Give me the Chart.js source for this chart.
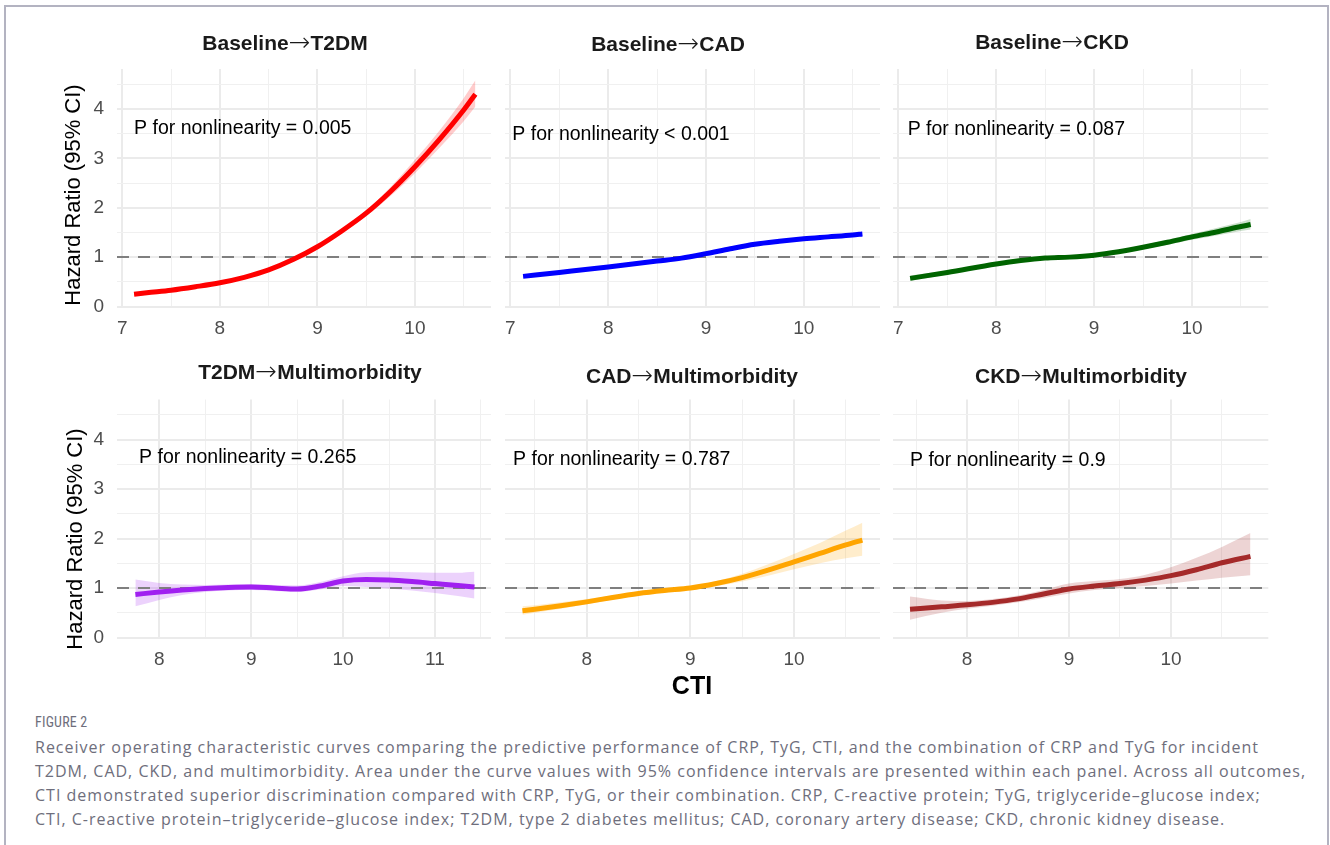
<!DOCTYPE html>
<html>
<head>
<meta charset="utf-8">
<script src="https://cdn.jsdelivr.net/npm/chart.js@4.4.1/dist/chart.umd.min.js"></script>
<style>
html,body{margin:0;padding:0;background:#fff;width:1330px;height:845px;overflow:hidden;position:relative;}
#frame{position:absolute;left:4px;top:5px;width:1325px;height:900px;border:2px solid #b3b3c1;box-sizing:border-box;}
canvas{position:absolute;left:0;top:0;}
#fig{position:absolute;left:35px;top:714px;font-family:'Liberation Sans Narrow','Roboto Condensed','DejaVu Sans Condensed',sans-serif;font-size:14px;color:#6e6e7c;letter-spacing:0.2px;}
#cap{position:absolute;left:35px;top:736px;font-family:'Open Sans',Lato,sans-serif;font-size:16px;line-height:23.9px;color:#6e6e7c;white-space:nowrap;}
#cap span{display:inline-block;}
</style>
</head>
<body>
<div id="frame"></div>
<canvas id="c0" width="1330" height="710"></canvas>
<canvas id="c1" width="1330" height="710"></canvas>
<canvas id="c2" width="1330" height="710"></canvas>
<canvas id="c3" width="1330" height="710"></canvas>
<canvas id="c4" width="1330" height="710"></canvas>
<canvas id="c5" width="1330" height="710"></canvas>
<div id="fig">FIGURE 2</div>
<div id="cap">
<div><span id="capL1">Receiver operating characteristic curves comparing the predictive performance of CRP, TyG, CTI, and the combination of CRP and TyG for incident</span></div>
<div><span>T2DM, CAD, CKD, and multimorbidity. Area under the curve values with 95% confidence intervals are presented within each panel. Across all outcomes,</span></div>
<div><span>CTI demonstrated superior discrimination compared with CRP, TyG, or their combination. CRP, C-reactive protein; TyG, triglyceride–glucose index;</span></div>
<div><span>CTI, C-reactive protein–triglyceride–glucose index; T2DM, type 2 diabetes mellitus; CAD, coronary artery disease; CKD, chronic kidney disease.</span></div>
</div>
<script>
// ---------------- DATA ----------------
const TITLES = ["Baseline→T2DM", "Baseline→CAD", "Baseline→CKD", "T2DM→Multimorbidity", "CAD→Multimorbidity", "CKD→Multimorbidity"];
const P_LABELS = ["P for nonlinearity = 0.005", "P for nonlinearity < 0.001", "P for nonlinearity = 0.087", "P for nonlinearity = 0.265", "P for nonlinearity = 0.787", "P for nonlinearity = 0.9"];
const Y_TITLE = "Hazard Ratio (95% CI)";
const X_TITLE = "CTI";
const REF_HR = 1;

const Y_MAJOR = [0, 1, 2, 3, 4];
const Y_MINOR = [0.5, 1.5, 2.5, 3.5, 4.5];
const X_MAJOR_TOP = [7, 8, 9, 10];
const X_MINOR_TOP = [7.5, 8.5, 9.5, 10.5];
const X_MAJOR_T2DM_MM = [8, 9, 10, 11];
const X_MINOR_T2DM_MM = [8.5, 9.5, 10.5, 11.5];
const X_MAJOR_CAD_MM = [8, 9, 10];
const X_MINOR_CAD_MM = [7.5, 8.5, 9.5, 10.5];
const X_MAJOR_CKD_MM = [8, 9, 10];
const X_MINOR_CKD_MM = [7.5, 8.5, 9.5, 10.5];

// Baseline -> T2DM
const CTI_T2DM = [7.12, 7.25, 7.5, 7.75, 8.0, 8.25, 8.5, 8.75, 9.0, 9.25, 9.5, 9.75, 10.0, 10.25, 10.5, 10.62];
const HR_T2DM  = [0.25, 0.28, 0.33, 0.40, 0.48, 0.59, 0.74, 0.95, 1.21, 1.53, 1.89, 2.33, 2.83, 3.38, 3.98, 4.30];
const LO_T2DM  = [0.22, 0.25, 0.31, 0.38, 0.46, 0.57, 0.72, 0.93, 1.18, 1.49, 1.83, 2.24, 2.70, 3.21, 3.75, 4.05];
const HI_T2DM  = [0.29, 0.31, 0.36, 0.42, 0.50, 0.61, 0.76, 0.97, 1.24, 1.57, 1.95, 2.42, 2.97, 3.56, 4.22, 4.58];

// Baseline -> CAD
const CTI_CAD = [7.13, 7.5, 8.0, 8.5, 8.75, 9.0, 9.25, 9.5, 9.75, 10.0, 10.25, 10.5, 10.6];
const HR_CAD  = [0.61, 0.69, 0.80, 0.92, 0.98, 1.07, 1.17, 1.26, 1.32, 1.37, 1.41, 1.45, 1.47];
const LO_CAD  = [0.58, 0.67, 0.78, 0.90, 0.96, 1.05, 1.15, 1.24, 1.30, 1.35, 1.38, 1.41, 1.42];
const HI_CAD  = [0.64, 0.71, 0.82, 0.94, 1.00, 1.09, 1.19, 1.28, 1.34, 1.39, 1.44, 1.49, 1.52];

// Baseline -> CKD
const CTI_CKD = [7.12, 7.5, 8.0, 8.25, 8.5, 8.75, 9.0, 9.25, 9.5, 9.75, 10.0, 10.25, 10.5, 10.6];
const HR_CKD  = [0.57, 0.69, 0.86, 0.93, 0.98, 1.00, 1.04, 1.11, 1.20, 1.30, 1.41, 1.51, 1.62, 1.66];
const LO_CKD  = [0.52, 0.65, 0.83, 0.91, 0.96, 0.98, 1.02, 1.08, 1.16, 1.25, 1.35, 1.44, 1.53, 1.56];
const HI_CKD  = [0.63, 0.73, 0.89, 0.95, 1.00, 1.02, 1.06, 1.14, 1.24, 1.35, 1.47, 1.59, 1.71, 1.77];

// T2DM -> Multimorbidity
const CTI_T2DM_MM = [7.74, 8.0, 8.25, 8.5, 8.75, 9.0, 9.25, 9.5, 9.75, 10.0, 10.25, 10.5, 10.75, 11.0, 11.25, 11.43];
const HR_T2DM_MM  = [0.87, 0.92, 0.96, 0.99, 1.01, 1.02, 1.00, 0.98, 1.04, 1.14, 1.17, 1.16, 1.13, 1.09, 1.05, 1.02];
const LO_T2DM_MM  = [0.63, 0.76, 0.86, 0.92, 0.95, 0.96, 0.94, 0.92, 0.97, 1.04, 1.02, 0.99, 0.95, 0.90, 0.84, 0.79];
const HI_T2DM_MM  = [1.17, 1.10, 1.07, 1.06, 1.07, 1.08, 1.06, 1.05, 1.12, 1.24, 1.32, 1.33, 1.32, 1.31, 1.31, 1.33];

// CAD -> Multimorbidity
const CTI_CAD_MM = [7.38, 7.5, 7.75, 8.0, 8.25, 8.5, 8.75, 9.0, 9.25, 9.5, 9.75, 10.0, 10.25, 10.5, 10.66];
const HR_CAD_MM  = [0.54, 0.57, 0.64, 0.72, 0.81, 0.89, 0.95, 1.00, 1.09, 1.21, 1.36, 1.53, 1.70, 1.87, 1.97];
const LO_CAD_MM  = [0.46, 0.50, 0.58, 0.67, 0.77, 0.85, 0.92, 0.97, 1.04, 1.13, 1.25, 1.38, 1.50, 1.60, 1.65];
const HI_CAD_MM  = [0.63, 0.65, 0.71, 0.78, 0.85, 0.93, 0.98, 1.03, 1.14, 1.29, 1.48, 1.69, 1.91, 2.16, 2.32];

// CKD -> Multimorbidity
const CTI_CKD_MM = [7.44, 7.75, 8.0, 8.25, 8.5, 8.75, 9.0, 9.25, 9.5, 9.75, 10.0, 10.25, 10.5, 10.78];
const HR_CKD_MM  = [0.57, 0.62, 0.66, 0.71, 0.78, 0.88, 0.98, 1.04, 1.09, 1.16, 1.25, 1.37, 1.51, 1.64];
const LO_CKD_MM  = [0.36, 0.50, 0.58, 0.64, 0.71, 0.80, 0.89, 0.96, 1.00, 1.04, 1.09, 1.15, 1.21, 1.26];
const HI_CKD_MM  = [0.83, 0.75, 0.74, 0.78, 0.85, 0.96, 1.09, 1.14, 1.18, 1.27, 1.42, 1.61, 1.83, 2.11];

// ---------------- LAYOUT / STYLE ----------------
const W = 1330, H = 710;
const FONT = "'Liberation Sans', Arial, Helvetica, sans-serif";
Chart.defaults.font.family = FONT;

const SERIES = [
  {cti: CTI_T2DM, hr: HR_T2DM, lo: LO_T2DM, hi: HI_T2DM, color: '#FF0000', band: 'rgba(255,0,0,0.2)'},
  {cti: CTI_CAD, hr: HR_CAD, lo: LO_CAD, hi: HI_CAD, color: '#0000FF', band: 'rgba(0,0,255,0.2)'},
  {cti: CTI_CKD, hr: HR_CKD, lo: LO_CKD, hi: HI_CKD, color: '#006400', band: 'rgba(0,100,0,0.2)'},
  {cti: CTI_T2DM_MM, hr: HR_T2DM_MM, lo: LO_T2DM_MM, hi: HI_T2DM_MM, color: '#A020F0', band: 'rgba(160,32,240,0.2)'},
  {cti: CTI_CAD_MM, hr: HR_CAD_MM, lo: LO_CAD_MM, hi: HI_CAD_MM, color: '#FFA500', band: 'rgba(255,165,0,0.2)'},
  {cti: CTI_CKD_MM, hr: HR_CKD_MM, lo: LO_CKD_MM, hi: HI_CKD_MM, color: '#A52A2A', band: 'rgba(165,42,42,0.2)'}
];

const COLS = [[117, 491], [505, 880], [893, 1268.3]];
const ROWS = [[69, 306.5], [399.5, 637.5]];
const Y_MAX = 4.81;

const PANELS = [
  {col:0,row:0,xMin:6.945,xMax:10.78,xMaj:X_MAJOR_TOP,xMin2:X_MINOR_TOP,titleX:285,titleY:42,ann:[7.12,3.6]},
  {col:1,row:0,xMin:6.945,xMax:10.78,xMaj:X_MAJOR_TOP,xMin2:X_MINOR_TOP,titleX:668,titleY:43.5,ann:[7.02,3.49]},
  {col:2,row:0,xMin:6.945,xMax:10.78,xMaj:X_MAJOR_TOP,xMin2:X_MINOR_TOP,titleX:1052,titleY:41,ann:[7.095,3.59]},
  {col:0,row:1,xMin:7.54,xMax:11.61,xMaj:X_MAJOR_T2DM_MM,xMin2:X_MINOR_T2DM_MM,titleX:310,titleY:371,ann:[7.78,3.64]},
  {col:1,row:1,xMin:7.212,xMax:10.83,xMaj:X_MAJOR_CAD_MM,xMin2:X_MINOR_CAD_MM,titleX:692,titleY:375,ann:[7.29,3.6]},
  {col:2,row:1,xMin:7.273,xMax:10.955,xMaj:X_MAJOR_CKD_MM,xMin2:X_MINOR_CKD_MM,titleX:1081,titleY:375,ann:[7.44,3.58]}
];

function pts(xs, ys) { return xs.map((x, i) => ({x: x, y: ys[i]})); }

const TITLE_FONT = "bold 21px " + FONT;
const ARROW_FONT = "200 26px 'DejaVu Sans', 'Noto Sans', sans-serif";

function drawTitle(ctx, text, cx, cy) {
  const parts = text.split('→');
  ctx.textAlign = 'left';
  ctx.textBaseline = 'alphabetic';
  ctx.font = TITLE_FONT;
  const w0 = ctx.measureText(parts[0]).width;
  const w2 = ctx.measureText(parts[1]).width;
  ctx.font = ARROW_FONT;
  const w1 = ctx.measureText('→').width;
  const base = cy + 7.5;
  let x = cx - (w0 + w1 + w2) / 2;
  ctx.font = TITLE_FONT;
  ctx.fillText(parts[0], x, base);
  x += w0;
  ctx.font = ARROW_FONT;
  ctx.fillText('→', x, base + 1);
  x += w1;
  ctx.font = TITLE_FONT;
  ctx.fillText(parts[1], x, base);
}

function textPlugin(items) {
  return {
    id: 'panelText',
    afterDraw(chart) {
      const ctx = chart.ctx;
      items.forEach(it => {
        ctx.save();
        ctx.fillStyle = it.color || '#000';
        if (it.title) {
          drawTitle(ctx, it.text, it.x, it.y);
          ctx.restore();
          return;
        }
        ctx.font = it.font;
        ctx.textAlign = it.align || 'center';
        ctx.textBaseline = 'middle';
        let x = it.x, y = it.y;
        if (it.data) {
          x = chart.scales.x.getPixelForValue(it.data[0]);
          y = chart.scales.y.getPixelForValue(it.data[1]);
        }
        ctx.translate(x, y);
        if (it.rot) ctx.rotate(it.rot);
        ctx.fillText(it.text, 0, 0);
        ctx.restore();
      });
    }
  };
}

PANELS.forEach((p, i) => {
  const s = SERIES[i];
  const [px0, px1] = COLS[p.col];
  const [py0, py1] = ROWS[p.row];
  const xMaj = p.xMaj, xMinr = p.xMin2;
  const isMajX = v => xMaj.includes(v);
  const isMajY = v => Y_MAJOR.includes(v);

  const texts = [
    {text: TITLES[i], title: true, x: p.titleX, y: p.titleY, color: '#1a1a1a'},
    {text: P_LABELS[i], data: p.ann, align: 'left', font: "19.5px " + FONT, color: '#000'}
  ];
  if (p.col === 0) {
    texts.push({text: Y_TITLE, x: p.row === 0 ? 74 : 76, y: p.row === 0 ? 195 : 539, rot: -Math.PI / 2, font: "22px " + FONT, color: '#000'});
  }
  if (p.col === 1 && p.row === 1) {
    texts.push({text: X_TITLE, x: 692, y: 687, font: "bold 25px " + FONT, color: '#000'});
  }

  new Chart(document.getElementById('c' + i), {
    type: 'line',
    data: {
      datasets: [
        {data: pts(s.cti, s.lo), borderWidth: 0, pointRadius: 0, fill: false, order: 4, cubicInterpolationMode: 'monotone'},
        {data: pts(s.cti, s.hi), borderWidth: 0, pointRadius: 0, fill: '-1', backgroundColor: s.band, order: 3, cubicInterpolationMode: 'monotone'},
        {data: [{x: p.xMin, y: REF_HR}, {x: p.xMax, y: REF_HR}], borderColor: '#7f7f7f', borderWidth: 2, borderDash: [12, 9], pointRadius: 0, fill: false, order: 2},
        {data: pts(s.cti, s.hr), borderColor: s.color, borderWidth: 5, pointRadius: 0, fill: false, order: 1, cubicInterpolationMode: 'monotone', borderCapStyle: 'butt'}
      ]
    },
    options: {
      responsive: false,
      devicePixelRatio: 1,
      animation: false,
      events: [],
      layout: {padding: {left: 0, top: py0, right: W - px1, bottom: 0}},
      plugins: {legend: {display: false}, tooltip: {enabled: false}, title: {display: false}},
      scales: {
        x: {
          type: 'linear', min: p.xMin, max: p.xMax,
          afterBuildTicks: sc => { sc.ticks = xMaj.concat(xMinr).sort((a, b) => a - b).map(v => ({value: v})); },
          ticks: {autoSkip: false, maxRotation: 0, minRotation: 0, padding: 11, color: '#4d4d4d', font: {size: 19},
                  callback: v => isMajX(v) ? String(v) : ''},
          grid: {drawTicks: false,
                 color: c => (c.tick && isMajX(c.tick.value)) ? '#ebebeb' : '#f0f0f0',
                 lineWidth: c => (c.tick && isMajX(c.tick.value)) ? 2 : 1},
          border: {display: false},
          afterFit: sc => { sc.height = H - py1; sc.paddingLeft = 0; sc.paddingRight = 0; }
        },
        y: {
          type: 'linear', min: 0, max: Y_MAX,
          afterBuildTicks: sc => { sc.ticks = Y_MAJOR.concat(Y_MINOR).sort((a, b) => a - b).map(v => ({value: v})); },
          ticks: {display: p.col === 0, autoSkip: false, padding: 13, color: '#4d4d4d', font: {size: 19},
                  callback: v => isMajY(v) ? String(v) : ''},
          grid: {drawTicks: false,
                 color: c => (c.tick && isMajY(c.tick.value)) ? '#ebebeb' : '#f0f0f0',
                 lineWidth: c => (c.tick && isMajY(c.tick.value)) ? 2 : 1},
          border: {display: false},
          afterFit: sc => { sc.width = px0; sc.paddingTop = 0; sc.paddingBottom = 0; }
        }
      }
    },
    plugins: [textPlugin(texts)]
  });
});

// fit caption spacing to the reference line length
(function () {
  const l1 = document.getElementById('capL1');
  const w = l1.getBoundingClientRect().width;
  const n = l1.textContent.length;
  const ls = (1224 - w) / n;
  document.getElementById('cap').style.letterSpacing = ls.toFixed(3) + 'px';
})();
</script>
</body>
</html>
